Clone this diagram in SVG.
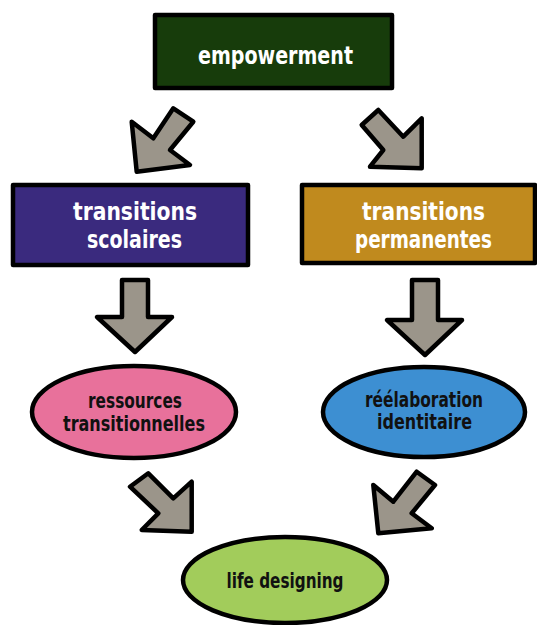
<svg xmlns="http://www.w3.org/2000/svg" width="537" height="625" viewBox="0 0 537 625">
<style>
.box{stroke:#000;stroke-width:4.5;stroke-linejoin:round}
.arr{fill:#9b958a;stroke:#000;stroke-width:4.5;stroke-linejoin:round}
.wt{font-family:"DejaVu Sans Condensed","DejaVu Sans",sans-serif;font-weight:bold;fill:#fff;text-anchor:middle;font-size:25px}
.bt{font-family:"DejaVu Sans Condensed","DejaVu Sans",sans-serif;font-weight:bold;fill:#111;text-anchor:middle;font-size:21px}
</style>
<rect width="537" height="625" fill="#fff"/>
<g id="connectors">
<polygon class="arr" points="131.7,121.7 153.3,138.3 173.3,108.3 193.3,121.7 170,150 190,165 136.7,171.7"/>
<polygon class="arr" points="361.7,125 378.3,110 403.3,136.7 421.7,118.3 421.7,168.3 370,166.7 383.3,150"/>
<polygon class="arr" points="122,280 148,280 148,317 172,317 135,352 97,317 122,317"/>
<polygon class="arr" points="412,280 438,280 438,320 462,320 425,355 387,320 412,320"/>
<polygon class="arr" points="130,486.7 148.3,473.3 173.3,498.3 191.7,481.7 191.7,531.7 141.7,530 158.3,513.3"/>
<polygon class="arr" points="373.3,485 393.3,501.7 416.7,471.7 435,485 411.7,513.3 431.7,528.3 378.3,533.3"/>
</g>
<g id="empowerment">
<rect class="box" x="155" y="15" width="237" height="73" fill="#173c0b"/>
<text class="wt" x="275.5" y="64" textLength="155" lengthAdjust="spacingAndGlyphs" font-size="27">empowerment</text>
</g>
<g id="transitions-scolaires">
<rect class="box" x="13" y="185" width="235" height="80" fill="#3a2a7e"/>
<text class="wt" x="135" y="220" textLength="124" lengthAdjust="spacingAndGlyphs">transitions</text>
<text class="wt" x="134.5" y="248" textLength="95" lengthAdjust="spacingAndGlyphs">scolaires</text>
</g>
<g id="transitions-permanentes">
<rect class="box" x="302" y="185" width="233" height="78" fill="#c08a1e"/>
<text class="wt" x="423.5" y="220" textLength="123" lengthAdjust="spacingAndGlyphs">transitions</text>
<text class="wt" x="423.5" y="248" textLength="137" lengthAdjust="spacingAndGlyphs">permanentes</text>
</g>
<g id="ressources-transitionnelles">
<ellipse class="box" cx="134" cy="412" rx="102" ry="46" fill="#e8719b"/>
<text class="bt" x="135" y="408" textLength="94" lengthAdjust="spacingAndGlyphs">ressources</text>
<text class="bt" x="134" y="431" textLength="142" lengthAdjust="spacingAndGlyphs">transitionnelles</text>
</g>
<g id="reelaboration-identitaire">
<ellipse class="box" cx="424" cy="412" rx="101" ry="45" fill="#3d8fd2"/>
<text class="bt" x="424" y="407" textLength="118" lengthAdjust="spacingAndGlyphs">réélaboration</text>
<text class="bt" x="424.5" y="429" textLength="95" lengthAdjust="spacingAndGlyphs">identitaire</text>
</g>
<g id="life-designing">
<ellipse class="box" cx="285" cy="580" rx="102" ry="43" fill="#a2cc5b"/>
<text class="bt" x="285" y="588" textLength="117" lengthAdjust="spacingAndGlyphs">life designing</text>
</g>
</svg>
